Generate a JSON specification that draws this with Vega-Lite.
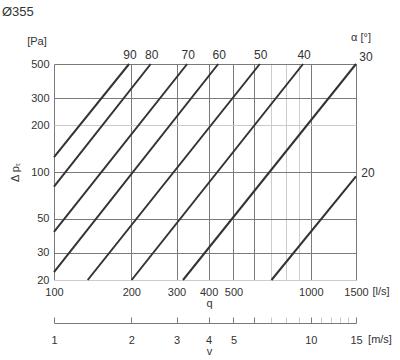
{
  "$schema": "https://vega.github.io/schema/vega-lite/v6.json",
  "width": 302,
  "height": 216,
  "autosize": {"type": "none"},
  "padding": {"left": 54, "top": 64, "right": 44, "bottom": 80},
  "background": "white",
  "config": {
    "view": {"stroke": null},
    "font": "Liberation Sans",
    "axis": {"labelFontSize": 11, "labelColor": "#333333", "titleFontSize": 11, "titleFontWeight": "normal", "titleColor": "#333333"}
  },
  "title": {"text": "Ø355", "anchor": "start", "frame": "group", "dx": -52, "offset": 13, "fontSize": 13, "fontWeight": "normal", "color": "#333333"},
  "datasets": {
    "lines": [
      {"angle": "90", "q": 100, "dp": 124.8},
      {"angle": "90", "q": 196, "dp": 500},
      {"angle": "80", "q": 100, "dp": 80.4},
      {"angle": "80", "q": 238, "dp": 500},
      {"angle": "70", "q": 100, "dp": 41.0},
      {"angle": "70", "q": 330, "dp": 500},
      {"angle": "60", "q": 100, "dp": 22.5},
      {"angle": "60", "q": 436, "dp": 500},
      {"angle": "50", "q": 135.3, "dp": 20},
      {"angle": "50", "q": 633, "dp": 500},
      {"angle": "40", "q": 200.6, "dp": 20},
      {"angle": "40", "q": 933, "dp": 500},
      {"angle": "30", "q": 318, "dp": 20},
      {"angle": "30", "q": 1500, "dp": 500},
      {"angle": "20", "q": 703, "dp": 20},
      {"angle": "20", "q": 1500, "dp": 93.8}
    ],
    "labels": [
      {"label": "90", "q": 196, "dp": 500, "pos": "top"},
      {"label": "80", "q": 238, "dp": 500, "pos": "top"},
      {"label": "70", "q": 330, "dp": 500, "pos": "top"},
      {"label": "60", "q": 436, "dp": 500, "pos": "top"},
      {"label": "50", "q": 633, "dp": 500, "pos": "top"},
      {"label": "40", "q": 933, "dp": 500, "pos": "top"},
      {"label": "30", "q": 1500, "dp": 500, "pos": "corner"},
      {"label": "20", "q": 1500, "dp": 93.8, "pos": "side"}
    ],
    "notes": [
      {"text": "[Pa]", "q": 100, "dp": 500, "kind": "pa"},
      {"text": "α [°]", "q": 1500, "dp": 500, "kind": "alpha"},
      {"text": "[l/s]", "q": 1500, "dp": 20, "kind": "ls"},
      {"text": "[m/s]", "q": 1500, "dp": 20, "kind": "ms"}
    ]
  },
  "layer": [
    {
      "layer": [
        {
          "data": {"name": "lines"},
          "mark": {"type": "line", "color": "#333333", "strokeWidth": 2},
          "encoding": {
            "x": {
              "field": "q", "type": "quantitative",
              "scale": {"type": "log", "domain": [100, 1500], "nice": false},
              "axis": {
                "values": [100, 200, 300, 400, 500, 600, 700, 800, 900, 1000, 1500],
                "format": "d",
                "grid": true,
                "gridColor": {"condition": {"test": "datum.value >= 700 && datum.value <= 900", "value": "#cccccc"}, "value": "#7a7a7a"},
                "ticks": false,
                "domain": false,
                "labelExpr": "datum.value >= 600 && datum.value <= 900 ? '' : datum.label",
                "labelFlush": false,
                "labelOverlap": false,
                "labelPadding": 6,
                "title": "q",
                "titlePadding": 0,
                "titleX": 155
              }
            },
            "y": {
              "field": "dp", "type": "quantitative",
              "scale": {"type": "log", "domain": [20, 500], "nice": false},
              "axis": {
                "values": [20, 30, 50, 100, 200, 300, 500],
                "format": "d",
                "grid": true,
                "gridColor": {"condition": {"test": "datum.value == 200 || datum.value == 20", "value": "#cccccc"}, "value": "#7a7a7a"},
                "ticks": false,
                "domain": false,
                "labelPadding": 5,
                "labelFlush": false,
                "labelOverlap": false,
                "title": "Δ pₜ",
                "titlePadding": 10
              }
            },
            "detail": {"field": "angle"}
          }
        },
        {
          "data": {"name": "labels"},
          "transform": [{"filter": "datum.pos == 'top'"}],
          "mark": {"type": "text", "fontSize": 12, "color": "#333333", "dy": -9, "dx": 1},
          "encoding": {
            "x": {"field": "q", "type": "quantitative"},
            "y": {"field": "dp", "type": "quantitative"},
            "text": {"field": "label"}
          }
        },
        {
          "data": {"name": "labels"},
          "transform": [{"filter": "datum.pos == 'corner'"}],
          "mark": {"type": "text", "fontSize": 12, "color": "#333333", "dy": -7, "dx": 10},
          "encoding": {
            "x": {"field": "q", "type": "quantitative"},
            "y": {"field": "dp", "type": "quantitative"},
            "text": {"field": "label"}
          }
        },
        {
          "data": {"name": "labels"},
          "transform": [{"filter": "datum.pos == 'side'"}],
          "mark": {"type": "text", "fontSize": 12, "color": "#333333", "dy": -3, "dx": 12},
          "encoding": {
            "x": {"field": "q", "type": "quantitative"},
            "y": {"field": "dp", "type": "quantitative"},
            "text": {"field": "label"}
          }
        },
        {
          "data": {"name": "notes"},
          "transform": [{"filter": "datum.kind == 'pa'"}],
          "mark": {"type": "text", "fontSize": 11, "color": "#333333", "dy": -22, "dx": -17},
          "encoding": {
            "x": {"field": "q", "type": "quantitative"},
            "y": {"field": "dp", "type": "quantitative"},
            "text": {"field": "text"}
          }
        },
        {
          "data": {"name": "notes"},
          "transform": [{"filter": "datum.kind == 'alpha'"}],
          "mark": {"type": "text", "fontSize": 11, "color": "#333333", "dy": -26, "dx": 5},
          "encoding": {
            "x": {"field": "q", "type": "quantitative"},
            "y": {"field": "dp", "type": "quantitative"},
            "text": {"field": "text"}
          }
        },
        {
          "data": {"name": "notes"},
          "transform": [{"filter": "datum.kind == 'ls'"}],
          "mark": {"type": "text", "fontSize": 11, "color": "#333333", "dy": 12, "dx": 25},
          "encoding": {
            "x": {"field": "q", "type": "quantitative"},
            "y": {"field": "dp", "type": "quantitative"},
            "text": {"field": "text"}
          }
        },
        {
          "data": {"name": "notes"},
          "transform": [{"filter": "datum.kind == 'ms'"}],
          "mark": {"type": "text", "fontSize": 11, "color": "#333333", "dy": 60, "dx": 24},
          "encoding": {
            "x": {"field": "q", "type": "quantitative"},
            "y": {"field": "dp", "type": "quantitative"},
            "text": {"field": "text"}
          }
        }
      ]
    },
    {
      "data": {"values": [{"v": 1}, {"v": 15}]},
      "mark": {"type": "point", "opacity": 0},
      "encoding": {
        "x": {
          "field": "v", "type": "quantitative",
          "scale": {"type": "log", "domain": [1, 15], "nice": false},
          "axis": {
            "orient": "bottom",
            "offset": 43,
            "values": [1, 2, 3, 4, 5, 6, 7, 8, 9, 10, 11, 12, 13, 14, 15],
            "format": "d",
            "grid": false,
            "ticks": true,
            "tickSize": -6,
            "tickColor": {"condition": {"test": "(datum.value >= 7 && datum.value <= 9) || (datum.value >= 11 && datum.value <= 14)", "value": "#c8c8c8"}, "value": "#7a7a7a"},
            "domainColor": "#7a7a7a",
            "labelExpr": "indexof([1,2,3,4,5,10,15], datum.value) >= 0 ? datum.label : ''",
            "labelFlush": false,
            "labelOverlap": false,
            "labelPadding": 17,
            "title": "v",
            "titlePadding": 0,
            "titleX": 155
          }
        }
      }
    }
  ],
  "resolve": {"scale": {"x": "independent"}}
}
